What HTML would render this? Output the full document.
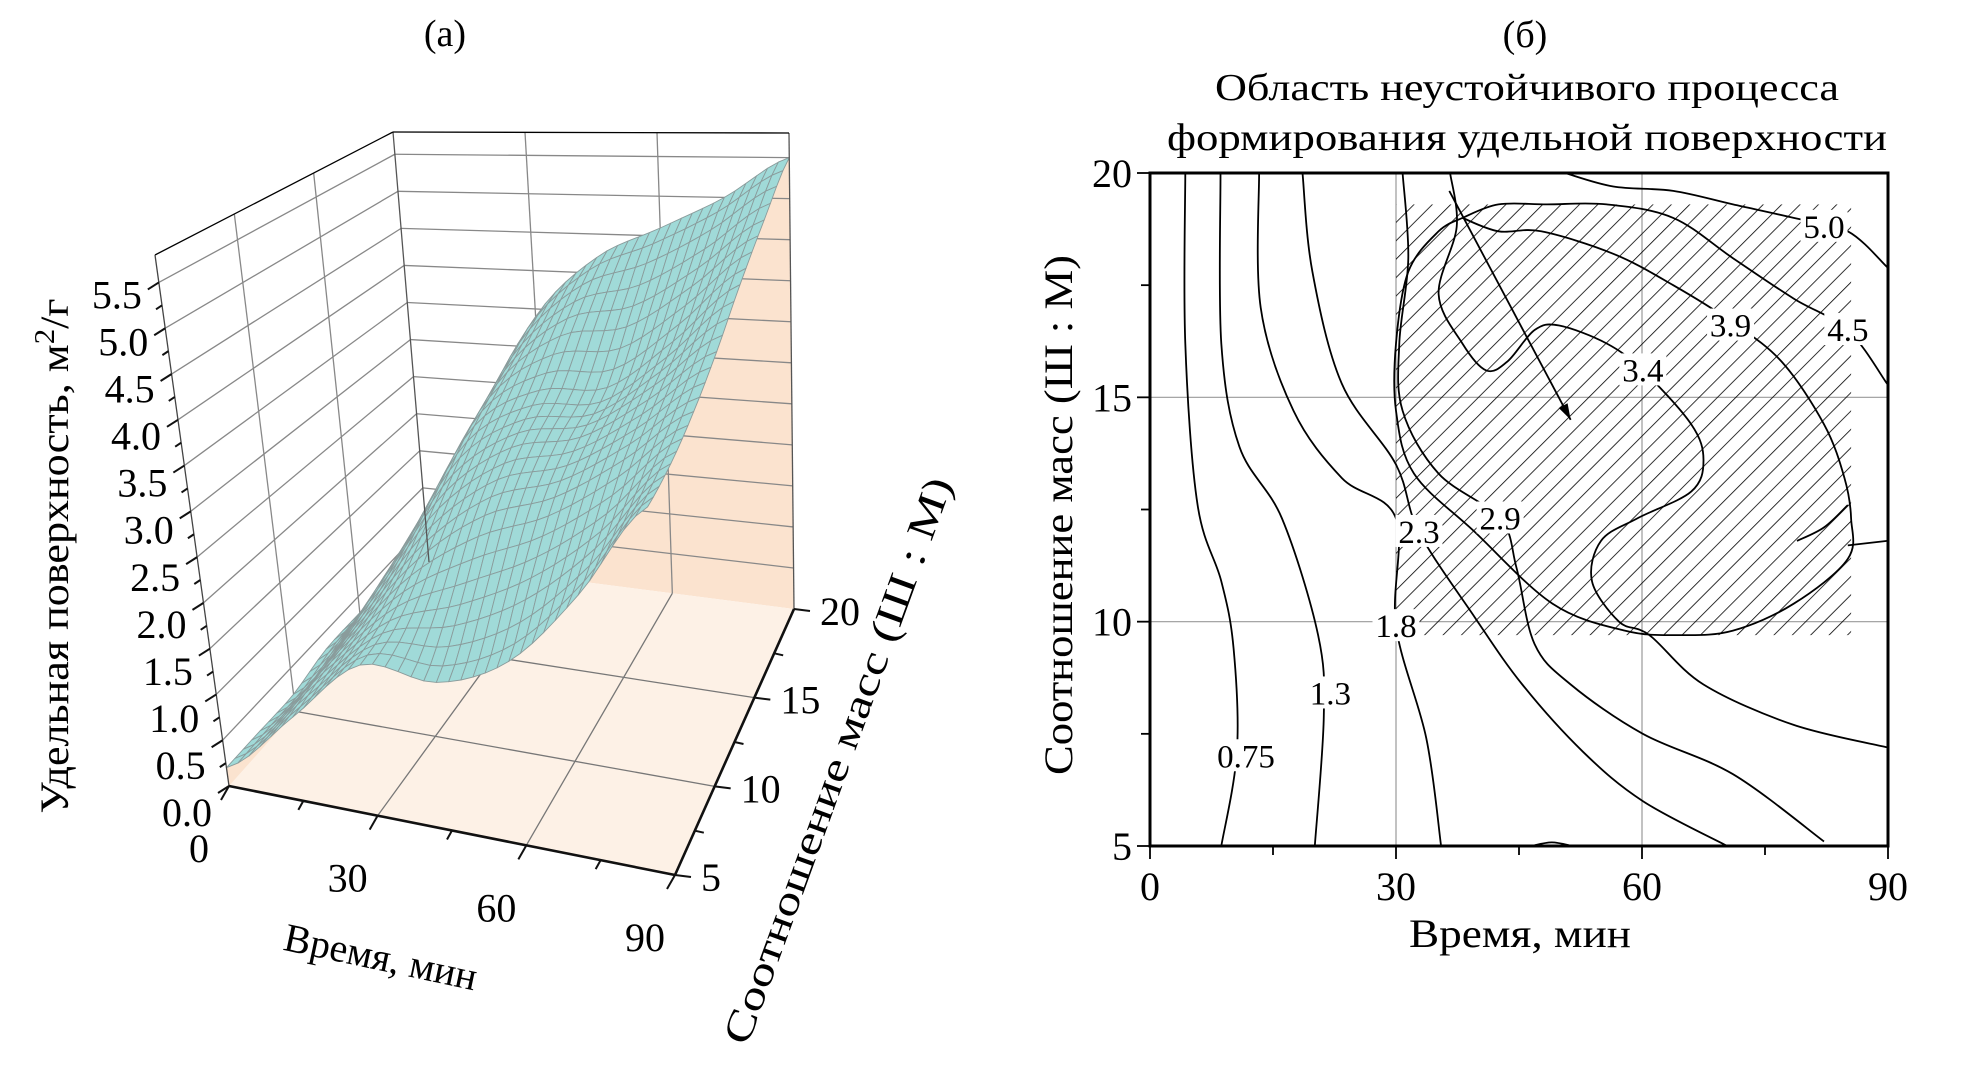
<!DOCTYPE html>
<html><head><meta charset="utf-8">
<style>
html,body{margin:0;padding:0;background:#fff;}
svg{display:block;}
svg text{font-family:"Liberation Serif","Times New Roman",serif;}
</style></head>
<body>
<svg id="fig" width="1982" height="1072" viewBox="0 0 1982 1072" xmlns="http://www.w3.org/2000/svg">
<defs>
<pattern id="hatch" patternUnits="userSpaceOnUse" width="13" height="13" patternTransform="rotate(45)">
<line x1="0" y1="0" x2="0" y2="13" stroke="#000" stroke-width="1.6"/>
</pattern>
</defs>
<g id="left"></g>
<g id="right"></g>
</svg>
<script>
// ---------- DATA: 3D surface (a) ----------
const surfT = [0, 15, 30, 45, 60, 75, 90];
const surfR = [5, 7.5, 10, 12.5, 15, 17.5, 20];
const surfZ_r5   = [0.2, 0.9, 1.6, 1.55, 1.9, 2.7, 3.7];
const surfZ_r7_5 = [0.2, 1.0, 1.7, 2.0, 2.4, 3.0, 3.8];
const surfZ_r10  = [0.2, 1.1, 2.0, 2.6, 2.9, 3.4, 4.0];
const surfZ_r12_5= [0.3, 1.3, 2.4, 3.0, 3.2, 3.7, 4.3];
const surfZ_r15  = [0.3, 1.5, 2.8, 3.3, 3.4, 4.0, 4.7];
const surfZ_r17_5= [0.3, 1.7, 3.1, 3.8, 4.0, 4.5, 5.1];
const surfZ_r20  = [0.4, 1.9, 3.4, 4.2, 4.6, 5.0, 5.5];
const zTicks = ["0.0","0.5","1.0","1.5","2.0","2.5","3.0","3.5","4.0","4.5","5.0","5.5"];
const tTicks3d = ["0","30","60","90"];
const rTicks3d = ["5","10","15","20"];

// ---------- DATA: contour plot (b) ----------
const xTicks = ["0","30","60","90"];
const yTicks = ["5","10","15","20"];
const c075 = [[4.3,20],[4.3,16.2],[5.8,12.6],[8.7,10.9],[10.2,9.4],[10.6,7.1],[8.7,5]];
const c13  = [[8.6,20],[8.7,16.2],[10.9,13.9],[16.1,12.3],[20.5,9.7],[21.2,7.9],[20.1,5]];
const c18  = [[13.3,20],[13.5,17.0],[17.5,14.7],[23.4,13.2],[30.0,12.3],[30.0,9.9],[33.7,7.4],[35.5,5]];
const c23  = [[18.6,20],[19.8,17.8],[23.4,15.3],[30.0,13.5],[32.8,12.0],[39.6,10.1],[45.4,8.6],[52.8,7.1],[60.1,6.0],[70.4,5]];
const c29  = [[30.8,20],[31.5,18.1],[30.4,16.2],[30.8,14.7],[35.2,13.3],[42.7,12.3],[44.7,11.2],[46.9,9.5],[51.3,8.6],[60.1,7.5],[71.1,6.6],[82.2,5.1]];
const c34  = [[36.6,20],[37.4,18.8],[35.2,17.3],[38.1,16.2],[41.0,15.6],[43.6,15.8],[46.9,16.5],[49.9,16.6],[55.7,16.2],[60.1,15.6],[66.0,14.4],[67.5,13.6],[66.0,12.9],[59.4,12.3],[55.0,11.8],[53.9,10.9],[57.2,10.0],[60.9,9.7],[67.5,8.6],[78.5,7.7],[89.9,7.2]];
const c39  = [[38.1,19.0],[42.5,18.7],[47.7,18.7],[56.5,18.2],[63.8,17.5],[70.8,16.7],[77.0,15.8],[82.2,14.4],[84.7,13.2],[85.5,12.3],[85.1,11.4],[78.5,10.4],[71.1,9.8],[64.5,9.7],[57.9,9.8],[49.1,10.4],[39.6,12.0],[32.2,13.3],[30.0,14.7],[30.0,16.2],[31.5,17.8],[35.2,18.7],[38.1,19.0]];
const c39b = [[78.9,11.8],[82.2,12.1],[85.1,12.6]];
const c39c = [[85.1,11.7],[89.9,11.8]];
const c45  = [[38.1,19.0],[42.5,19.3],[48.4,19.3],[55.7,19.3],[63.8,19.0],[71.1,18.1],[78.5,17.2],[85.1,16.5],[89.9,15.3]];
const c50  = [[50.6,20],[56.5,19.7],[63.8,19.6],[71.1,19.3],[78.5,19.0],[85.1,18.7],[89.9,17.9]];
const cBlob = [[46.5,5],[49,5.08],[51.5,5]];
const contourSets = [c075,c13,c18,c23,c29,c34,c39,c39b,c39c,c45,c50,cBlob];
const contourNames = ["0.75","1.3","1.8","2.3","2.9","3.4","3.9","3.9b","3.9c","4.5","5.0","blob"];
const labelText = ["0.75","1.3","1.8","2.3","2.9","3.4","3.9","4.5","5.0"];
const labelT = [11.7, 22.0, 30.0, 32.8, 42.7, 60.1, 70.8, 85.1, 82.2];
const labelR = [7.0, 8.4, 9.9, 12.0, 12.3, 15.6, 16.6, 16.5, 18.8];
const hatchRegion = [30, 85.5, 9.7, 19.3]; // tMin, tMax, rMin, rMax
const arrowFrom = [36.5, 19.6];
const arrowTo = [51.3, 14.5];

const NS = "http://www.w3.org/2000/svg";
const FONT = "'Liberation Serif', serif";
function mk(parent, tag, attrs, text){
  const e = document.createElementNS(NS, tag);
  for (const k in attrs) e.setAttribute(k, attrs[k]);
  if (tag === 'text') e.setAttribute('font-family', FONT);
  if (text !== undefined) e.textContent = text;
  parent.appendChild(e);
  return e;
}
function catmull(p0,p1,p2,p3,s){
  const s2=s*s,s3=s2*s;
  return 0.5*((2*p1)+(-p0+p2)*s+(2*p0-5*p1+4*p2-p3)*s2+(-p0+3*p1-3*p2+p3)*s3);
}
function smoothPath(pts){
  let d = "M"+pts[0][0].toFixed(1)+","+pts[0][1].toFixed(1);
  for (let i=0;i<pts.length-1;i++){
    const p0=pts[Math.max(0,i-1)],p1=pts[i],p2=pts[i+1],p3=pts[Math.min(pts.length-1,i+2)];
    const c1=[p1[0]+(p2[0]-p0[0])/6,p1[1]+(p2[1]-p0[1])/6];
    const c2=[p2[0]-(p3[0]-p1[0])/6,p2[1]-(p3[1]-p1[1])/6];
    d+=" C"+c1[0].toFixed(1)+","+c1[1].toFixed(1)+" "+c2[0].toFixed(1)+","+c2[1].toFixed(1)+" "+p2[0].toFixed(1)+","+p2[1].toFixed(1);
  }
  return d;
}

// ================= RIGHT: contour plot =================
(function(){
  const g = document.getElementById('right');
  const X0=1150, X1=1888, Y20=173, Y5=846;
  const X = t => X0 + t/90*(X1-X0);
  const Y = r => Y5 - (r-5)/15*(Y5-Y20);

  const title = mk(g,'text',{x:1525,y:47,'font-size':38,'text-anchor':'middle'},'(б)');
  
  
  const t1 = mk(g,'text',{x:1527,y:100,'font-size':38,'text-anchor':'middle',textLength:624,lengthAdjust:'spacingAndGlyphs'},'Область неустойчивого процесса');
  
  
  const t2 = mk(g,'text',{x:1527,y:150,'font-size':38,'text-anchor':'middle',textLength:720,lengthAdjust:'spacingAndGlyphs'},'формирования удельной поверхности');
  
  

  [30,60].forEach(t=>{
    const l=mk(g,'line',{x1:X(t),x2:X(t),y1:Y20,y2:Y5,stroke:'#999','stroke-width':1.2});
    
    
  });
  [10,15].forEach(r=>{
    const l=mk(g,'line',{x1:X0,x2:X1,y1:Y(r),y2:Y(r),stroke:'#999','stroke-width':1.2});
    
    
  });
  const hr = mk(g,'rect',{x:X(hatchRegion[0]),y:Y(hatchRegion[3]),width:X(hatchRegion[1])-X(hatchRegion[0]),height:Y(hatchRegion[2])-Y(hatchRegion[3]),fill:'url(#hatch)'});
  
  

  contourSets.forEach((cs,i)=>{
    const pts = cs.map(p=>[X(p[0]),Y(p[1])]);
    const p = mk(g,'path',{d:smoothPath(pts),fill:'none',stroke:'#000','stroke-width':1.8});
    
    
  });
  const ax1=X(arrowFrom[0]),ay1=Y(arrowFrom[1]),ax2=X(arrowTo[0]),ay2=Y(arrowTo[1]);
  const al = mk(g,'line',{x1:ax1,y1:ay1,x2:ax2,y2:ay2,stroke:'#000','stroke-width':1.8});
  
  
  const ang=Math.atan2(ay2-ay1,ax2-ax1), L=16, W=5;
  const hx=ax2-L*Math.cos(ang), hy=ay2-L*Math.sin(ang);
  const ah = mk(g,'polygon',{points:`${ax2},${ay2} ${hx+W*Math.sin(ang)},${hy-W*Math.cos(ang)} ${hx-W*Math.sin(ang)},${hy+W*Math.cos(ang)}`,fill:'#000'});
  
  

  labelText.forEach((s,i)=>{
    const x=X(labelT[i]), y=Y(labelR[i]);
    const w = s.length*15;
    const bg = mk(g,'rect',{x:x-w/2-1,y:y-17,width:w+2,height:32,fill:'#fff'});
    
    
    const tx = mk(g,'text',{x:x,y:y+11,'font-size':33,'text-anchor':'middle'},s);
    
    
  });

  const fr = mk(g,'rect',{x:X0,y:Y20,width:X1-X0,height:Y5-Y20,fill:'none',stroke:'#000','stroke-width':3});
  
  
  for (let t=0;t<=90;t+=15){
    const major = t%30===0;
    const tk = mk(g,'line',{x1:X(t),x2:X(t),y1:Y5,y2:Y5+(major?13:9),stroke:'#000','stroke-width':1.8});
    
    
  }
  for (let r=5;r<=20;r+=2.5){
    const major = r%5===0;
    const tk = mk(g,'line',{x1:X0,x2:X0-(major?13:9),y1:Y(r),y2:Y(r),stroke:'#000','stroke-width':1.8});
    
    
  }
  xTicks.forEach(s=>{
    const tx = mk(g,'text',{x:X(+s),y:900,'font-size':40,'text-anchor':'middle'},s);
    
    
  });
  yTicks.forEach(s=>{
    const tx = mk(g,'text',{x:X0-18,y:Y(+s)+14,'font-size':40,'text-anchor':'end'},s);
    
    
  });
  const xl = mk(g,'text',{x:1520,y:947,'font-size':40,'text-anchor':'middle',textLength:222,lengthAdjust:'spacingAndGlyphs'},'Время, мин');
  
  
  const yl = mk(g,'text',{x:0,y:0,'font-size':40,'text-anchor':'middle',textLength:520,lengthAdjust:'spacingAndGlyphs',transform:'translate(1072,515) rotate(-90)'},'Соотношение масс (Ш : М)');
  
  
})();

// ================= LEFT: 3D surface =================
(function(){
  const g = document.getElementById('left');
  const ZMAX = 5.8;
  const A=[229,786], B=[675,875], C=[794,609], D=[429,562];
  const hA=[-74,-531], hB=[-43,-577], hC=[-5,-476], hD=[-36,-430];
  function bil(a,b,c,d,u,v){
    return [a[0]*(1-u)*(1-v)+b[0]*u*(1-v)+c[0]*u*v+d[0]*(1-u)*v,
            a[1]*(1-u)*(1-v)+b[1]*u*(1-v)+c[1]*u*v+d[1]*(1-u)*v];
  }
  function proj(t,r,z){
    const u=t/90, v=(r-5)/15;
    const P=bil(A,B,C,D,u,v), H=bil(hA,hB,hC,hD,u,v);
    return [P[0]+H[0]*z/ZMAX, P[1]+H[1]*z/ZMAX];
  }
  const rows=[surfZ_r5,surfZ_r7_5,surfZ_r10,surfZ_r12_5,surfZ_r15,surfZ_r17_5,surfZ_r20];
  function interp1(arr, xs, x){
    let i=0; while(i<xs.length-2 && x>xs[i+1]) i++;
    const s=(x-xs[i])/(xs[i+1]-xs[i]);
    const p0=arr[Math.max(0,i-1)],p1=arr[i],p2=arr[i+1],p3=arr[Math.min(arr.length-1,i+2)];
    return catmull(p0,p1,p2,p3,s);
  }
  function zAt(t,r){
    const col = rows.map(row=>interp1(row,surfT,t));
    return interp1(col,surfR,r);
  }
  const P = (t,r,z)=>proj(t,r,z).map(v=>v.toFixed(1)).join(',');

  const ttl = mk(g,'text',{x:445,y:46,'font-size':38,'text-anchor':'middle'},'(a)');
  
  

  const lw = mk(g,'polygon',{points:[P(0,5,0),P(0,20,0),P(0,20,ZMAX),P(0,5,ZMAX)].join(' '),fill:'#fff'});
  
  
  const bw = mk(g,'polygon',{points:[P(0,20,0),P(90,20,0),P(90,20,ZMAX),P(0,20,ZMAX)].join(' '),fill:'#fff'});
  
  
  // shaded region behind/under surface: t=90 edge + r=5 edge, down to floor line
  const shade=[P(90,20,0)];
  for(let k=0;k<=24;k++){const r=20-k*15/24; shade.push(P(90,r,zAt(90,r)));}
  for(let k=1;k<=28;k++){const t=90-k*70/28; shade.push(P(t,5,zAt(t,5)));}
  shade.push(P(20,20,0));
  const pw = mk(g,'polygon',{points:shade.join(' '),fill:'#fbe3cf'});
  
  
  const fl = mk(g,'polygon',{points:[P(0,5,0),P(90,5,0),P(90,20,0),P(0,20,0)].join(' '),fill:'#fdf1e6'});
  
  

  function gl(a,b,name,col){
    const l=mk(g,'line',{x1:a[0],y1:a[1],x2:b[0],y2:b[1],stroke:col||'#888','stroke-width':1.3});
    
    
  }
  for(let z=0.5;z<=5.51;z+=0.5){
    gl(proj(0,5,z),proj(0,20,z),'left-wall-gridline');
    gl(proj(0,20,z),proj(90,20,z),'back-wall-gridline');
  }
  [10,15].forEach(r=>{ gl(proj(0,r,0),proj(0,r,ZMAX),'left-wall-gridline'); gl(proj(0,r,0),proj(90,r,0),'floor-gridline','#777'); });
  [30,60].forEach(t=>{ gl(proj(t,20,0),proj(t,20,ZMAX),'back-wall-gridline'); gl(proj(t,5,0),proj(t,20,0),'floor-gridline','#777'); });

  const cur=[];
  for(let k=0;k<=24;k++){const r=5+k*15/24; cur.push(P(0,r,zAt(0,r)));}
  const cp = mk(g,'polygon',{points:[P(0,5,0),...cur,P(0,20,0)].join(' '),fill:'#fbe3cf'});
  
  

  const nT=36,nR=24, quads=[];
  const grid=[];
  for(let i=0;i<=nT;i++){grid.push([]);for(let j=0;j<=nR;j++){const t=i*90/nT,r=5+j*15/nR;grid[i].push(proj(t,r,zAt(t,r)));}}
  for(let i=0;i<nT;i++)for(let j=0;j<nR;j++) quads.push([i,j,(i/nT)-(j/nR)]);
  quads.sort((a,b)=>a[2]-b[2]);
  const sg = mk(g,'g',{fill:'#a0dad8',stroke:'#8a9c9c','stroke-width':0.9,'stroke-linejoin':'round'});
  
  
  quads.forEach(q=>{
    const [i,j]=q;
    const pts=[grid[i][j],grid[i+1][j],grid[i+1][j+1],grid[i][j+1]].map(p=>p[0].toFixed(1)+','+p[1].toFixed(1)).join(' ');
    const pg=mk(sg,'polygon',{points:pts});
    
    
  });

  gl(proj(0,20,0),proj(0,20,ZMAX),'back-left-edge','#555');
  gl(proj(90,20,0),proj(90,20,ZMAX),'back-right-edge','#555');
  gl(proj(0,5,ZMAX),proj(0,20,ZMAX),'top-left-edge','#000');
  gl(proj(0,20,ZMAX),proj(90,20,ZMAX),'top-back-edge','#000');
  gl(proj(0,5,0),proj(0,5,ZMAX),'z-axis-line','#444');
  const ax1=mk(g,'line',{x1:A[0],y1:A[1],x2:B[0],y2:B[1],stroke:'#111','stroke-width':2.6});
  
  
  const ax2=mk(g,'line',{x1:B[0],y1:B[1],x2:C[0],y2:C[1],stroke:'#111','stroke-width':2.6});
  
  

  for(let k=0;k<=22;k++){
    const z=k*0.25, p=proj(0,5,z), major=k%2===0;
    const tk=mk(g,'line',{x1:p[0],y1:p[1],x2:p[0]-(major?11:6),y2:p[1]+(major?7:4),stroke:'#111','stroke-width':2});
    
    
  }
  zTicks.forEach(s=>{
    const z=+s, p=proj(0,5,z);
    const tx=mk(g,'text',{x:p[0]-17,y:p[1]+13+14*(1-z/5.5)+13,'font-size':40,'text-anchor':'end'},s);
    
    
  });
  for(let t=0;t<=90;t+=15){
    const p=proj(t,5,0), major=t%30===0;
    const tk=mk(g,'line',{x1:p[0],y1:p[1],x2:p[0]-(major?8:5),y2:p[1]+(major?14:9),stroke:'#111','stroke-width':2});
    
    
  }
  tTicks3d.forEach(s=>{
    const p=proj(+s,5,0);
    const tx=mk(g,'text',{x:p[0]-30,y:p[1]+76,'font-size':40,'text-anchor':'middle'},s);
    
    
  });
  for(let r=5;r<=20;r+=2.5){
    const p=proj(90,r,0), major=r%5===0;
    const tk=mk(g,'line',{x1:p[0],y1:p[1],x2:p[0]+(major?16:9),y2:p[1]+2,stroke:'#111','stroke-width':2});
    
    
  }
  rTicks3d.forEach(s=>{
    const p=proj(90,+s,0);
    const tx=mk(g,'text',{x:p[0]+26,y:p[1]+16,'font-size':40,'text-anchor':'start'},s);
    
    
  });
  const zl=mk(g,'text',{x:0,y:0,'font-size':40,'text-anchor':'middle',textLength:515,lengthAdjust:'spacingAndGlyphs',transform:'translate(68,556) rotate(-90)'});
  
  
  zl.appendChild(document.createTextNode('Удельная поверхность, м'));
  mk(zl,'tspan',{dy:-14,'font-size':28},'2');
  mk(zl,'tspan',{dy:14},'/г');
  const tl=mk(g,'text',{x:0,y:0,'font-size':40,'text-anchor':'middle',transform:'translate(378,970) rotate(12)'},'Время, мин');
  
  
  const rl=mk(g,'text',{x:0,y:0,'font-size':40,'text-anchor':'middle',textLength:600,lengthAdjust:'spacingAndGlyphs',transform:'translate(850,765) rotate(-70)'},'Соотношение масс (Ш : М)');
  
  
})();
</script>
</body></html>
